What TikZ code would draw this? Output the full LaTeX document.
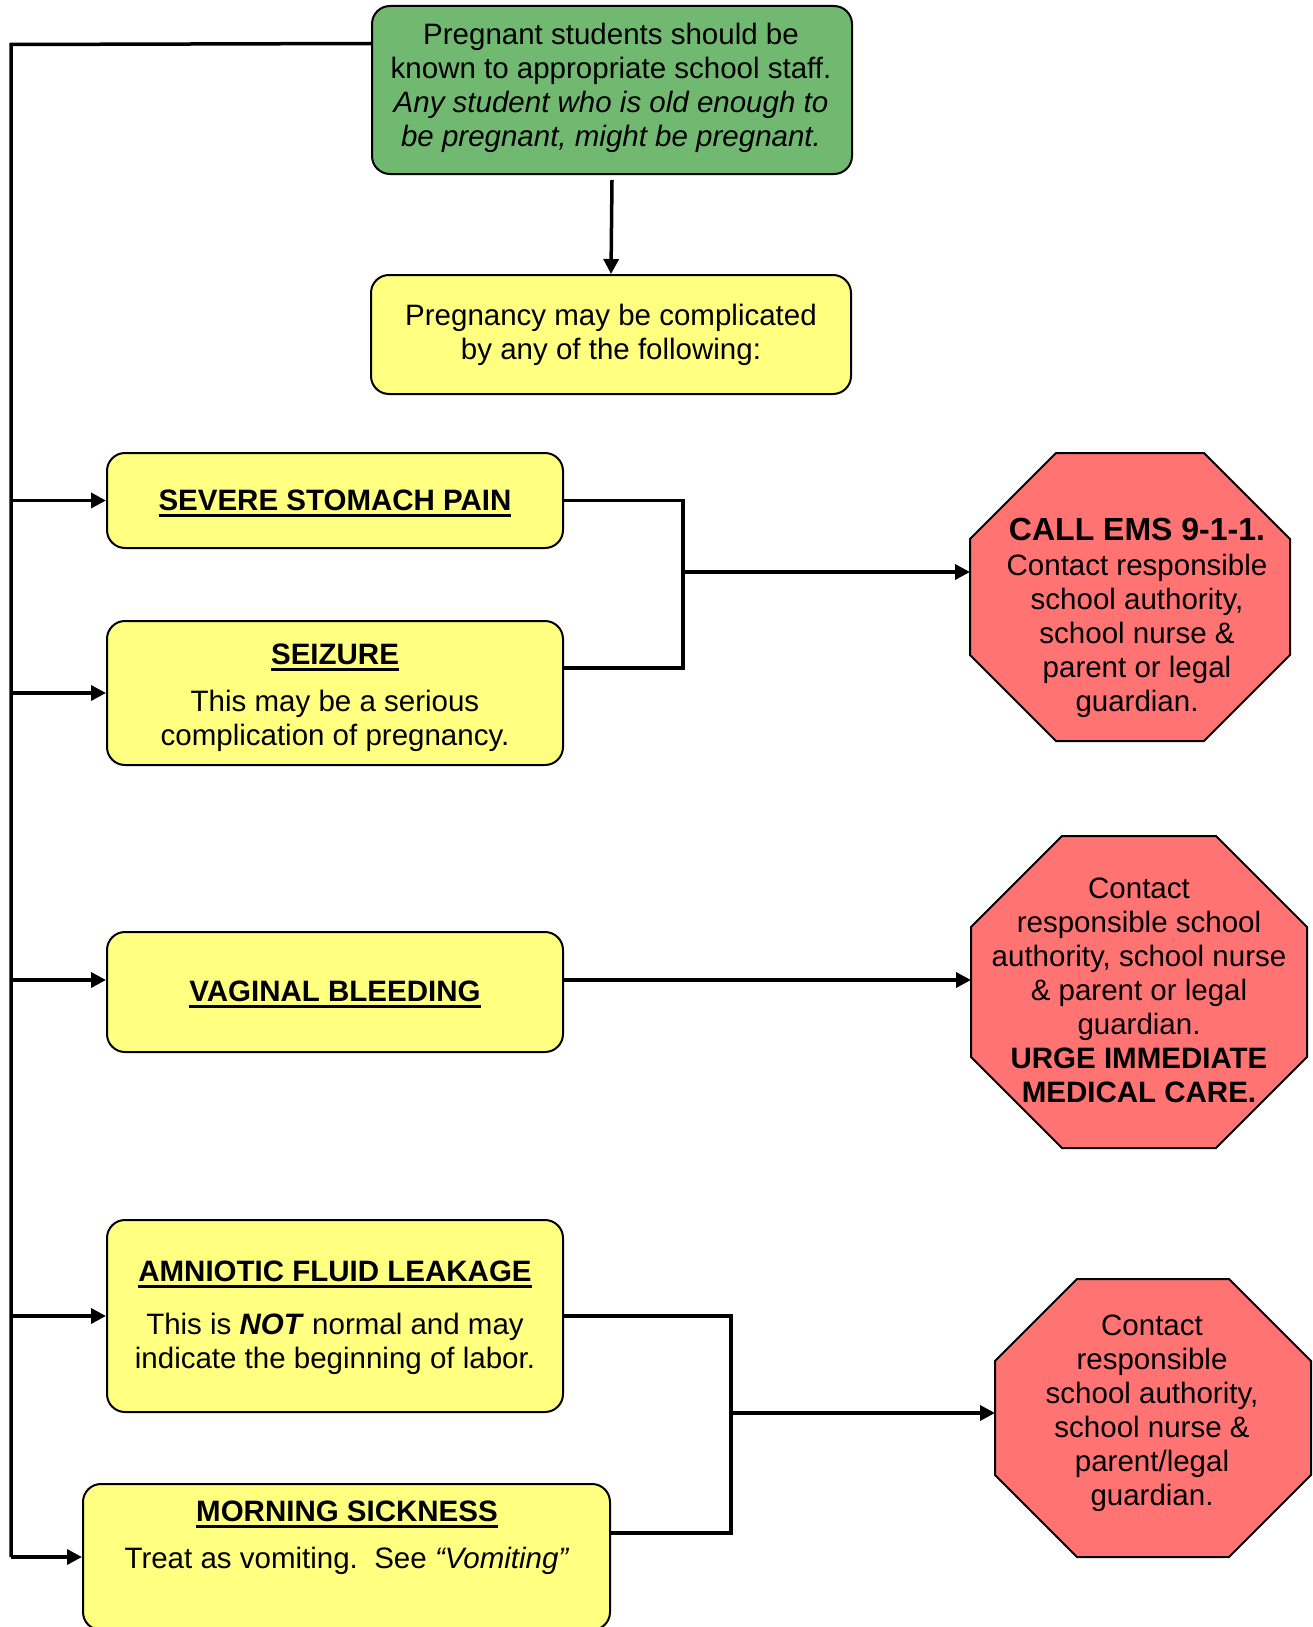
\documentclass[tikz,border=0pt]{standalone}
\usepackage{fontspec}
\setmainfont{Liberation Sans}
\usetikzlibrary{arrows.meta,calc}
\definecolor{boxgreen}{RGB}{113,184,113}
\definecolor{boxyellow}{RGB}{255,255,128}
\definecolor{stopred}{RGB}{255,115,115}
\newsavebox{\hdbox}
\newcommand\hdline[1]{\sbox\hdbox{\bfseries #1}\rlap{\rule[-6.5pt]{\wd\hdbox}{3pt}}\usebox\hdbox}
\newcommand\octpath[2]{%
  \draw[stopstyle] ($(#1.north west)+(#2,0)$) -- ($(#1.north east)+(-#2,0)$)
    -- ($(#1.north east)+(0,#2)$) -- ($(#1.south east)+(0,-#2)$)
    -- ($(#1.south east)+(-#2,0)$) -- ($(#1.south west)+(#2,0)$)
    -- ($(#1.south west)+(0,-#2)$) -- ($(#1.north west)+(0,#2)$) -- cycle;}
\begin{document}
\begin{tikzpicture}[x=1pt,y=-1pt,
  every node/.style={font=\fontsize{29.5}{34}\selectfont},
  box/.style={draw=black,line width=2pt,rounded corners=18pt,inner sep=0pt},
  ybox/.style={box,fill=boxyellow},
  octnode/.style={inner sep=0pt,outer sep=0pt},
  stopstyle/.style={draw=black,line width=2pt,fill=stopred,line join=miter},
  txt/.style={align=center,inner sep=0pt},
  conn/.style={line width=3.5pt},
  arr/.style={conn,-{Triangle[length=15pt,width=15pt]}}]
\useasboundingbox (0,0) rectangle (1312,1627);

% boxes
\node[box,fill=boxgreen,minimum width=480pt,minimum height=168pt] (green) at (612,90) {};
\node[ybox,minimum width=480pt,minimum height=119pt] (intro) at (611,334.5) {};
\node[ybox,minimum width=456pt,minimum height=95pt] (severe) at (335,500.5) {};
\node[ybox,minimum width=456pt,minimum height=144pt] (seizure) at (335,693) {};
\node[ybox,minimum width=456pt,minimum height=120pt] (vaginal) at (335,992) {};
\node[ybox,minimum width=456pt,minimum height=192pt] (amniotic) at (335,1316) {};
\node[ybox,minimum width=527pt,minimum height=146pt] (morning) at (346.5,1557) {};

% octagons
\node[octnode,minimum width=320pt,minimum height=288pt] (oct1) at (1130,597) {};
\octpath{oct1}{86}
\node[octnode,minimum width=336pt,minimum height=312pt] (oct2) at (1139,992) {};
\octpath{oct2}{91}
\node[octnode,minimum width=316pt,minimum height=278pt] (oct3) at (1153,1418) {};
\octpath{oct3}{82}

% texts
\node[txt] (tgreen) at (611,88) {Pregnant students should be\\known to appropriate school staff.\\\textit{Any student who is old enough to}\\\textit{be pregnant, might be pregnant.}};
\node[txt] (tintro) at (611,334.5) {Pregnancy may be complicated\\by any of the following:};
\node[txt] (tsevere) at (335,503.5) {\hdline{SEVERE STOMACH PAIN}};
\node[txt] (tseizure) at (335,697.5) {\hdline{SEIZURE}\\[13pt]This may be a serious\\complication of pregnancy.};
\node[txt] (tvaginal) at (335,994.5) {\hdline{VAGINAL BLEEDING}};
\node[txt] (tamniotic) at (335,1318) {\hdline{AMNIOTIC FLUID LEAKAGE}\\[19pt]This is \textbf{\textit{NOT}} normal and may\\indicate the beginning of labor.};
\node[txt] (tmorning) at (347,1537.5) {\hdline{MORNING SICKNESS}\\[12.5pt]Treat as vomiting.\ \ See \textit{“Vomiting”}};
\node[txt] (toct1) at (1137,618) {{\fontsize{32}{34}\selectfont\bfseries CALL EMS 9-1-1.}\\[1.5pt]Contact responsible\\school authority,\\school nurse \&\\parent or legal\\guardian.};
\node[txt] (toct2) at (1139,990) {Contact\\responsible school\\authority, school nurse\\\& parent or legal\\guardian.\\\textbf{URGE IMMEDIATE}\\\textbf{MEDICAL CARE.}};
\node[txt] (toct3) at (1152,1413.5) {Contact\\responsible\\school authority,\\school nurse \&\\parent/legal\\guardian.};

% connectors
\coordinate (lt) at (11,44.5);
\coordinate (lb) at (11,1557);
\coordinate (vy) at ([yshift=12pt]vaginal.west);
\coordinate (j1) at (683,572);
\coordinate (j2) at (731,1413);

\draw[conn] ($(green.north west)+(0,38.5)$) -- (lt) -- (lb);
\draw[arr] (lt |- severe.west) -- (severe.west);
\draw[arr] (lt |- seizure.west) -- (seizure.west);
\draw[arr] (lt |- vy) -- (vy);
\draw[arr] (lt |- amniotic.west) -- (amniotic.west);
\draw[arr] (lb) -- (lb -| morning.west);
\draw[arr] ([yshift=-5pt]green.south) -- (intro.north);

\draw[conn] (severe.east) -| (j1) |- ([yshift=25pt]seizure.east);
\draw[arr] (j1) -- (oct1.west |- j1);
\draw[arr] (vaginal.east |- vy) -- (oct2.west |- vy);
\draw[conn] (amniotic.east) -| (j2) |- ([yshift=24pt]morning.east);
\draw[arr] (j2) -- (oct3.west |- j2);
\end{tikzpicture}
\end{document}
